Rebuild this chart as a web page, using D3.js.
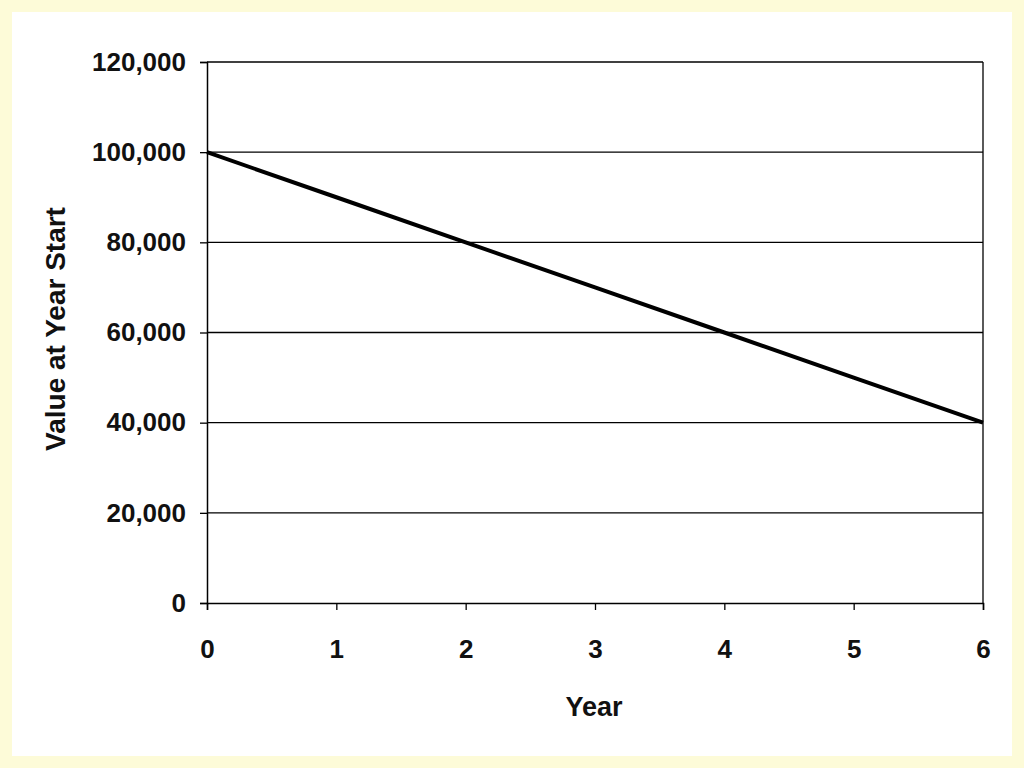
<!DOCTYPE html>
<html><head><meta charset="utf-8">
<script src="https://cdn.jsdelivr.net/npm/d3@7"></script>
<style>
  body { margin: 0; background: #fdfbd8; }
  svg text { font-family: "Liberation Sans Narrow", "Liberation Sans", Arial, sans-serif; font-weight: bold; fill: #111; }
</style></head>
<body>
<svg id="chart" width="1024" height="768"></svg>
<script>
// ── Data ────────────────────────────────────────────
const years  = [0, 1, 2, 3, 4, 5, 6];
const values = [100000, 90000, 80000, 70000, 60000, 50000, 40000];
const yTicks = [0, 20000, 40000, 60000, 80000, 100000, 120000];

const svg = d3.select('#chart');
svg.append('rect').attr('x', 12).attr('y', 12).attr('width', 1000).attr('height', 744).attr('fill', '#fff');

const L = 207, R = 983, T = 62, B = 603;
const x = d3.scaleLinear().domain([0, 6]).range([L, R]);
const y = d3.scaleLinear().domain([0, 120000]).range([B, T]);

// gridlines + frame
svg.append('g').selectAll('line').data(yTicks.slice(1)).join('line')
  .attr('x1', L).attr('x2', R).attr('y1', d => y(d)).attr('y2', d => y(d))
  .attr('stroke', '#000').attr('stroke-width', 1.3);
svg.append('line').attr('x1', R).attr('x2', R).attr('y1', T).attr('y2', B)
  .attr('stroke', '#000').attr('stroke-width', 1.3);

const fmt = d3.format(',');
const yAxis = svg.append('g').attr('transform', `translate(${L},0)`)
  .call(d3.axisLeft(y).tickValues(yTicks).tickFormat(fmt).tickSize(7).tickPadding(14));
const xAxis = svg.append('g').attr('transform', `translate(0,${B})`)
  .call(d3.axisBottom(x).tickValues(years).tickFormat(d3.format('d')).tickSize(7).tickPadding(30));
[yAxis, xAxis].forEach(a => {
  a.select('.domain').attr('stroke', '#000').attr('stroke-width', 1.5);
  a.selectAll('.tick line').attr('stroke', '#000').attr('stroke-width', 1.3);
  a.selectAll('text').style('font-size', '26px').attr('fill', '#111');
});

// series line
svg.append('path').datum(years.map((d, i) => [d, values[i]]))
  .attr('d', d3.line().x(d => x(d[0])).y(d => y(d[1])))
  .attr('fill', 'none').attr('stroke', '#000').attr('stroke-width', 4);

// titles
svg.append('text').attr('x', 594).attr('y', 716).attr('text-anchor', 'middle')
  .style('font-size', '27px').text('Year');
svg.append('text').attr('transform', 'translate(65,329) rotate(-90)').attr('text-anchor', 'middle')
  .style('font-size', '28px').text('Value at Year Start');
</script>
</body></html>
